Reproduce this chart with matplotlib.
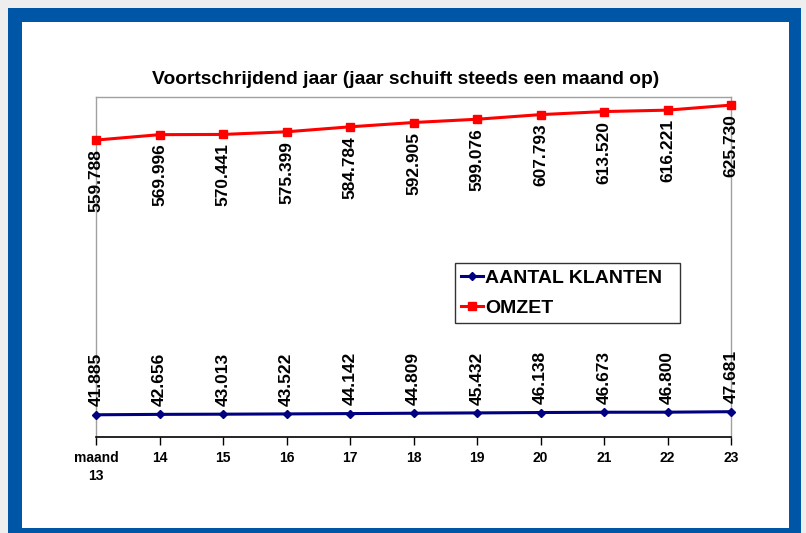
import matplotlib
matplotlib.use("Agg")
import matplotlib.pyplot as plt
from matplotlib.patches import Rectangle

months = [13, 14, 15, 16, 17, 18, 19, 20, 21, 22, 23]
tick_labels = ["maand\n13", "14", "15", "16", "17", "18", "19", "20", "21", "22", "23"]
klanten = [41.885, 42.656, 43.013, 43.522, 44.142, 44.809, 45.432, 46.138, 46.673, 46.800, 47.681]
omzet = [559.788, 569.996, 570.441, 575.399, 584.784, 592.905, 599.076, 607.793, 613.520, 616.221, 625.730]
title = "Voortschrijdend jaar (jaar schuift steeds een maand op)"

plt.rcParams['font.family'] = ['Liberation Sans', 'DejaVu Sans']

W, H = 806, 533
fig = plt.figure(figsize=(W / 100, H / 100), dpi=100)
fig.patch.set_facecolor('#eeeeee')

# blue frame and white page
fig.patches.append(Rectangle((8 / W, 0), (801 - 8) / W, 1 - 8 / H, transform=fig.transFigure,
                             facecolor='#0056a6', edgecolor='none', zorder=-10))
fig.patches.append(Rectangle((22 / W, 1 - 528 / H), (789 - 22) / W, (528 - 22) / H,
                             transform=fig.transFigure, facecolor='white', edgecolor='none', zorder=-9))

ax = fig.add_axes([96 / W, 1 - 437 / H, (731 - 96) / W, (437 - 97) / H])
ax.set_facecolor('none')
ax.set_zorder(5)

def fmt(v):
    return f"{v:.3f}"

ax.plot(months, klanten, color='#000080', marker='D', markersize=4, linewidth=2.2,
        label='AANTAL KLANTEN', clip_on=False, zorder=3)
ax.plot(months, omzet, color='#ff0000', marker='s', markersize=5.5, linewidth=2.2,
        label='OMZET', clip_on=False, zorder=3)

for x, v in zip(months, omzet):
    ax.annotate(fmt(v), (x, v), xytext=(0, -6.5), textcoords='offset points',
                rotation=90, ha='center', va='top', fontsize=12.5, fontweight='bold')
for x, v in zip(months, klanten):
    ax.annotate(fmt(v), (x, v), xytext=(0, 6), textcoords='offset points',
                rotation=90, ha='center', va='bottom', fontsize=12.5, fontweight='bold')

ax.set_xlim(13, 23)
ax.set_ylim(0, 641)
ax.set_yticks([])
ax.set_xticks(months)
ax.set_xticklabels(tick_labels, fontsize=10, fontweight='bold', linespacing=1.4)
ax.tick_params(axis='x', length=6, width=1, direction='out', pad=4, color='black')

for s in ['top', 'right', 'left']:
    ax.spines[s].set_color('#a0a0a0')
    ax.spines[s].set_linewidth(1)
ax.spines['bottom'].set_color('black')
ax.spines['bottom'].set_linewidth(1.2)

fig.text(406 / W, 1 - 80 / H, title, ha='center', va='center', fontsize=13.9, fontweight='bold')

leg = ax.legend(loc='upper left', bbox_to_anchor=(455 / W, 1 - 323 / H, 225 / W, 60 / H),
                bbox_transform=fig.transFigure, mode='expand', frameon=True, fancybox=False,
                prop={'weight': 'bold', 'size': 14}, handlelength=1.1, handletextpad=0.1,
                borderpad=0.33, labelspacing=0.62, borderaxespad=0)
leg.get_frame().set_edgecolor('black')
leg.get_frame().set_linewidth(1)

fig.savefig('out.png', dpi=100, facecolor=fig.get_facecolor())
